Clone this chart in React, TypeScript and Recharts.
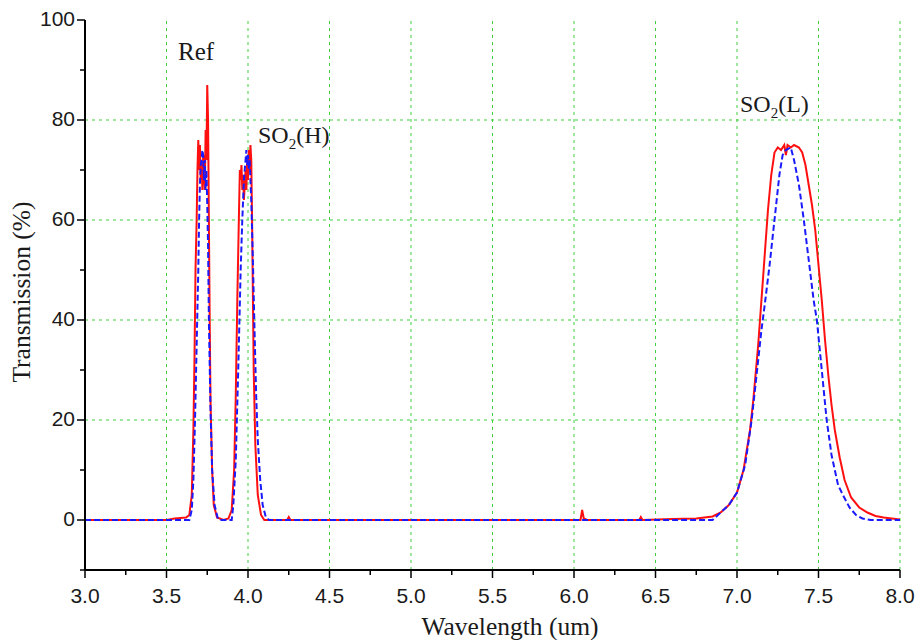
import { LineChart, Line, XAxis, YAxis, ReferenceLine } from "recharts";

// red solid curve (measured)
const redWave = [
  3.0, 3.5, 3.55, 3.62, 3.64, 3.655, 3.665, 3.672, 3.678, 3.685, 3.69, 3.695, 3.7, 3.705, 3.71, 3.715, 3.72, 3.725,
  3.73, 3.735, 3.74, 3.745, 3.75, 3.755, 3.76, 3.765, 3.77, 3.78, 3.79, 3.81, 3.85, 3.88, 3.9, 3.915, 3.925, 3.935,
  3.945, 3.95, 3.955, 3.96, 3.965, 3.97, 3.975, 3.98, 3.985, 3.99, 3.995, 4.0, 4.005, 4.01, 4.015, 4.02, 4.025, 4.03,
  4.035, 4.045, 4.06, 4.08, 4.1, 4.24, 4.25, 4.26, 6.0, 6.04, 6.05, 6.06, 6.08, 6.4, 6.41, 6.42, 6.6, 6.75, 6.85, 6.9,
  6.95, 7.0, 7.04, 7.08, 7.1, 7.13, 7.15, 7.17, 7.19, 7.21, 7.23, 7.25, 7.27, 7.29, 7.3, 7.31, 7.33, 7.35, 7.38, 7.4,
  7.42, 7.44, 7.46, 7.48, 7.5, 7.52, 7.54, 7.56, 7.58, 7.6, 7.63, 7.66, 7.7, 7.75, 7.8, 7.85, 7.9, 7.95, 8.0,
];
const redT = [
  0, 0, 0.3, 0.5, 1, 5, 18, 33, 50, 60, 70, 76, 70, 75, 68, 72, 66, 73,
  70, 66, 78, 72, 87, 80, 60, 40, 24, 10, 3, 0.5, 0, 0.3, 2, 10, 25, 45,
  62, 70, 68, 71, 66, 69, 64, 67, 70, 66, 72, 68, 74, 70, 75, 72, 60, 45,
  30, 15, 5, 1, 0, 0, 0.6, 0, 0, 0, 2, 0.3, 0, 0, 0.6, 0, 0.2, 0.3, 0.7, 1.5,
  3, 5.5, 10, 18, 24, 35, 44, 53, 62, 69, 73.5, 74.5, 74, 75, 73, 75, 74.5, 75, 74.5, 73.5,
  71, 67, 63, 58, 51, 44, 36, 29, 23, 18, 12.5, 8, 4.5, 2.5, 1.5, 0.8, 0.5, 0.3, 0.1,
];

// blue dashed curve (design)
const blueWave = [
  3.0, 3.64, 3.655, 3.665, 3.675, 3.685, 3.695, 3.7, 3.705, 3.71, 3.715, 3.72, 3.725, 3.73, 3.735, 3.74, 3.745, 3.75,
  3.755, 3.76, 3.77, 3.78, 3.795, 3.815, 3.83, 3.9, 3.91, 3.925, 3.94, 3.955, 3.965, 3.975, 3.985, 3.99, 3.995, 4.0,
  4.005, 4.01, 4.02, 4.03, 4.04, 4.05, 4.06, 4.075, 4.09, 4.11, 4.13, 6.85, 6.9, 6.95, 7.0, 7.05, 7.09, 7.12, 7.15,
  7.17, 7.2, 7.23, 7.26, 7.28, 7.3, 7.33, 7.35, 7.38, 7.41, 7.44, 7.47, 7.49, 7.52, 7.55, 7.58, 7.62, 7.65, 7.69,
  7.73, 7.77, 7.82, 8.0,
];
const blueT = [
  0, 0, 2, 8, 20, 35, 50, 60, 67, 71, 72, 74, 73, 68, 72, 66, 70, 63,
  55, 40, 22, 10, 3, 0.3, 0, 0, 3, 12, 30, 50, 60, 68, 72, 74, 71, 73,
  70, 72, 64, 52, 38, 25, 16, 8, 3, 0.5, 0, 0, 1.5, 3, 5.5, 11, 20, 29, 38,
  43, 51, 60, 69, 73, 74, 74.5, 72, 67, 60, 52, 44, 40, 30, 20, 13, 7, 5, 2.5,
  1, 0.3, 0, 0,
];

const xTicks = [3, 3.25, 3.5, 3.75, 4, 4.25, 4.5, 4.75, 5, 5.25, 5.5, 5.75, 6, 6.25, 6.5, 6.75, 7, 7.25, 7.5, 7.75, 8];
const yTicks = [-10, 0, 10, 20, 30, 40, 50, 60, 70, 80, 90, 100];
const xGrid = [3.5, 4, 4.5, 5, 5.5, 6, 6.5, 7, 7.5, 8];
const yGrid = [20, 40, 60, 80];

const redData = redWave.map((w, i) => ({ w, t: redT[i] }));
const blueData = blueWave.map((w, i) => ({ w, t: blueT[i] }));

const gridColor = "#3fcf3f";
const tickFont = "'Liberation Sans', Arial, sans-serif";
const serif = "'Liberation Serif', 'Times New Roman', serif";

function XTick(props: any) {
  const { x, y, payload } = props;
  const v = payload.value as number;
  const major = Math.abs(v * 2 - Math.round(v * 2)) < 1e-6;
  return (
    <g>
      <line x1={x} y1={y} x2={x} y2={y + (major ? 8 : 5)} stroke="#000" strokeWidth={1.5} />
      {major && (
        <text x={x} y={y + 33} textAnchor="middle" fontFamily={tickFont} fontSize={21} fill="#1a1a1a">
          {v.toFixed(1)}
        </text>
      )}
    </g>
  );
}

function YTick(props: any) {
  const { x, y, payload } = props;
  const v = payload.value as number;
  const major = v >= 0 && v % 20 === 0;
  return (
    <g>
      <line x1={x} y1={y} x2={x - (major ? 8 : 5)} y2={y} stroke="#000" strokeWidth={1.5} />
      {major && (
        <text x={x - 10} y={y + 6} textAnchor="end" fontFamily={tickFont} fontSize={21} fill="#1a1a1a">
          {v}
        </text>
      )}
    </g>
  );
}

export default function App() {
  return (
    <div style={{ position: "absolute", left: 0, top: 0, background: "#fff" }}>
      <LineChart width={916} height={640} margin={{ top: 20, right: 16, bottom: 0, left: 0 }}>
        <XAxis
          dataKey="w"
          type="number"
          domain={[3, 8]}
          ticks={xTicks}
          interval={0}
          allowDataOverflow
          height={70}
          tickSize={0}
          tickMargin={0}
          tickLine={false}
          tick={<XTick />}
          axisLine={{ stroke: "#000", strokeWidth: 2 }}
        />
        <YAxis
          type="number"
          domain={[-10, 100]}
          ticks={yTicks}
          interval={0}
          allowDataOverflow
          width={85}
          tickSize={0}
          tickMargin={0}
          tickLine={false}
          tick={<YTick />}
          axisLine={{ stroke: "#000", strokeWidth: 2 }}
        />
        {xGrid.map((g) => (
          <ReferenceLine key={"x" + g} x={g} stroke={gridColor} strokeDasharray="3 4" strokeWidth={1} />
        ))}
        {yGrid.map((g) => (
          <ReferenceLine key={"y" + g} y={g} stroke={gridColor} strokeDasharray="3 4" strokeWidth={1} />
        ))}
        <Line
          data={redData}
          dataKey="t"
          type="linear"
          stroke="#ff1010"
          strokeWidth={2}
          dot={false}
          isAnimationActive={false}
        />
        <Line
          data={blueData}
          dataKey="t"
          type="linear"
          stroke="#1a1aff"
          strokeWidth={2}
          strokeDasharray="6 3"
          dot={false}
          isAnimationActive={false}
        />
        <text x={178} y={60} fontFamily={serif} fontSize={25} fill="#1a1a1a">
          Ref
        </text>
        <text x={258} y={143} fontFamily={serif} fontSize={24} fill="#1a1a1a">
          SO<tspan fontSize={15} dy={6}>2</tspan>
          <tspan dy={-6}>(H)</tspan>
        </text>
        <text x={740} y={112} fontFamily={serif} fontSize={24} fill="#1a1a1a">
          SO<tspan fontSize={15} dy={6}>2</tspan>
          <tspan dy={-6}>(L)</tspan>
        </text>
        <text x={510} y={635} textAnchor="middle" fontFamily={serif} fontSize={25.5} fill="#1a1a1a">
          Wavelength (um)
        </text>
        <text
          x={30}
          y={292}
          textAnchor="middle"
          fontFamily={serif}
          fontSize={25.5}
          fill="#1a1a1a"
          transform="rotate(-90 30 292)"
        >
          Transmission (%)
        </text>
      </LineChart>
    </div>
  );
}
